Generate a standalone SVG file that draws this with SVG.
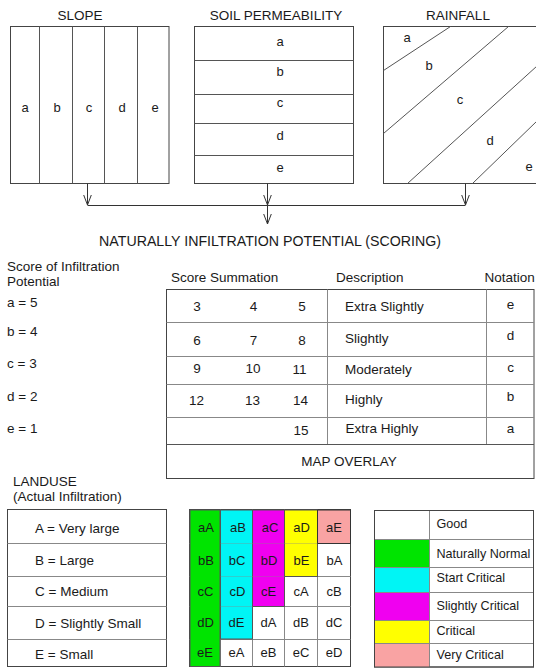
<svg xmlns="http://www.w3.org/2000/svg" width="536" height="668" viewBox="0 0 536 668">
<style>
text{font-family:"Liberation Sans",Arial,sans-serif;font-size:13.5px;fill:#1a1a1a;dominant-baseline:central}
.m{text-anchor:middle}
.t{font-size:13.5px}
.s13{font-size:13px}
.lg{font-size:12.6px}
.box{fill:#fff;stroke:#444;stroke-width:1}
.ln{stroke:#555;stroke-width:1;fill:none}
.lt{stroke:#888;stroke-width:1;fill:none}
.con{stroke:#333;stroke-width:1;fill:none}
.g{fill:#00e400}.c{fill:#00f5f5}.p{fill:#f000f0}.y{fill:#ffff00}.k{fill:#f9a3a3}
</style>
<defs>
<marker id="v" viewBox="-11 -5 12 10" refX="0" refY="0" markerWidth="12" markerHeight="10" markerUnits="userSpaceOnUse" orient="auto">
<path d="M-10,-3.8 L0,0 L-10,3.8" fill="none" stroke="#333" stroke-width="1"/>
</marker>
</defs>

<g id="slope">
<text class="m t" x="80" y="15">SLOPE</text>
<rect class="box" x="10.5" y="26.5" width="158.5" height="157"/>
<path class="ln" d="M39.5,26.5V183.5M72.5,26.5V183.5M104.5,26.5V183.5M137.5,26.5V183.5"/>
<text class="m s13" x="25" y="107">a</text>
<text class="m s13" x="57" y="107">b</text>
<text class="m s13" x="89" y="107">c</text>
<text class="m s13" x="122" y="107">d</text>
<text class="m s13" x="155" y="107">e</text>
</g>

<g id="soil">
<text class="m t" x="276" y="15">SOIL PERMEABILITY</text>
<rect class="box" x="194.5" y="26.5" width="159" height="157"/>
<path class="ln" d="M194.5,60.5H353.5M194.5,94.5H353.5M194.5,123.5H353.5M194.5,155.5H353.5"/>
<text class="m s13" x="280" y="41">a</text>
<text class="m s13" x="280" y="71">b</text>
<text class="m s13" x="280" y="102">c</text>
<text class="m s13" x="280" y="135">d</text>
<text class="m s13" x="280" y="167">e</text>
</g>

<g id="rainfall">
<text class="m t" x="458" y="15">RAINFALL</text>
<rect class="box" x="383.5" y="26.5" width="160" height="157"/>
<path class="ln" d="M383.5,70.5L450.5,26.5M383.5,133.5L508.5,26.5M407.5,183.5L537,66M472.5,183.5L537,121"/>
<text class="m s13" x="407" y="37">a</text>
<text class="m s13" x="429" y="65">b</text>
<text class="m s13" x="460" y="99">c</text>
<text class="m s13" x="490" y="140">d</text>
<text class="m s13" x="529" y="166">e</text>
</g>

<g id="connectors">
<path class="con" d="M87.5,183.5V205" marker-end="url(#v)"/>
<path class="con" d="M465.5,183.5V205" marker-end="url(#v)"/>
<path class="con" d="M87.5,205.5H465.5"/>
<path class="con" d="M267.5,183.5V205" marker-end="url(#v)"/>
<path class="con" d="M267.5,205V224" marker-end="url(#v)"/>
</g>

<g id="title">
<text class="m" style="font-size:14.2px" x="270" y="241">NATURALLY INFILTRATION POTENTIAL (SCORING)</text>
</g>

<g id="score-key">
<text x="7" y="266">Score of Infiltration</text>
<text x="7" y="281.5">Potential</text>
<text x="7" y="302">a = 5</text>
<text x="7" y="331.5">b = 4</text>
<text x="7" y="363">c = 3</text>
<text x="7" y="396.5">d = 2</text>
<text x="7" y="428">e = 1</text>
</g>

<g id="score-table">
<text x="171" y="277.5">Score Summation</text>
<text x="336" y="277.5">Description</text>
<text x="484.5" y="277.5">Notation</text>
<rect class="box" x="166.5" y="289.5" width="367.5" height="189"/>
<path class="lt" d="M166.5,322.5H534M166.5,356.5H534M166.5,384.5H534M166.5,417.5H534M327.5,289.5V444.5M486.5,289.5V444.5"/>
<path class="ln" d="M166.5,444.5H534"/>
<text class="m" x="197" y="306.5">3</text><text class="m" x="253.5" y="306.5">4</text><text class="m" x="302" y="306.5">5</text>
<text x="345" y="306">Extra Slightly</text><text class="m" x="510.5" y="304.5">e</text>
<text class="m" x="197" y="340.5">6</text><text class="m" x="253.5" y="340.5">7</text><text class="m" x="302" y="340.5">8</text>
<text x="345" y="338">Slightly</text><text class="m" x="510.5" y="335">d</text>
<text class="m" x="197" y="368.5">9</text><text class="m" x="253" y="368.5">10</text><text class="m" x="299.5" y="369">11</text>
<text x="345" y="369">Moderately</text><text class="m" x="510.5" y="367">c</text>
<text class="m" x="196.5" y="400">12</text><text class="m" x="252.5" y="400">13</text><text class="m" x="300.5" y="400">14</text>
<text x="345" y="399">Highly</text><text class="m" x="510.5" y="396.5">b</text>
<text class="m" x="301" y="430">15</text>
<text x="345.5" y="428.5">Extra Highly</text><text class="m" x="510.5" y="428">a</text>
<text class="m" x="349" y="461.5">MAP OVERLAY</text>
</g>

<g id="landuse">
<text x="13" y="481.5">LANDUSE</text>
<text x="13" y="496.5">(Actual Infiltration)</text>
<rect class="box" x="7.5" y="509.5" width="159" height="157"/>
<path class="lt" d="M7.5,543.5H166.5M7.5,576.5H166.5M7.5,606.5H166.5M7.5,639.5H166.5"/>
<text x="35" y="528">A = Very large</text>
<text x="35" y="560.5">B = Large</text>
<text x="35" y="591.5">C = Medium</text>
<text x="35" y="623">D = Slightly Small</text>
<text x="35" y="654">E = Small</text>
</g>

<g id="overlay-matrix">
<rect class="box" x="189.5" y="509.5" width="161" height="157"/>
<path class="lt" d="M189.5,543.5H350.5M189.5,576.5H350.5M189.5,606.5H350.5M189.5,639.5H350.5M220.5,509.5V666.5M252.5,509.5V666.5M284.5,509.5V666.5M317.5,509.5V666.5"/>
<rect class="g" x="190" y="510" width="30" height="156.5" stroke="#555" stroke-width="1"/>
<rect class="c" x="220.5" y="510" width="32" height="129" stroke="#555" stroke-width="1"/>
<rect class="p" x="252.5" y="510" width="32" height="96.5" stroke="#555" stroke-width="1"/>
<rect class="y" x="284.5" y="510" width="33" height="66.5" stroke="#555" stroke-width="1"/>
<rect class="k" x="317.5" y="510" width="33" height="33.5" stroke="#333" stroke-width="1"/>
<path class="lt" d="M220.5,543.5H252.5M220.5,576.5H252.5M220.5,606.5H252.5M252.5,543.5H284.5M252.5,576.5H284.5M284.5,543.5H317.5" stroke-opacity="0.35"/>
<text class="m s13" x="206" y="527">aA</text><text class="m s13" x="238" y="527">aB</text><text class="m s13" x="270" y="527">aC</text><text class="m s13" x="301.5" y="527">aD</text><text class="m s13" x="334" y="527">aE</text>
<text class="m s13" x="206" y="560">bB</text><text class="m s13" x="237" y="560">bC</text><text class="m s13" x="269" y="560">bD</text><text class="m s13" x="301.5" y="560">bE</text><text class="m s13" x="334.5" y="560">bA</text>
<text class="m s13" x="205.5" y="591">cC</text><text class="m s13" x="237.5" y="591">cD</text><text class="m s13" x="268.5" y="591">cE</text><text class="m s13" x="301" y="591">cA</text><text class="m s13" x="334" y="591">cB</text>
<text class="m s13" x="205.5" y="622">dD</text><text class="m s13" x="236.5" y="622">dE</text><text class="m s13" x="268.5" y="622">dA</text><text class="m s13" x="301" y="622">dB</text><text class="m s13" x="334" y="622">dC</text>
<text class="m s13" x="205" y="652.5">eE</text><text class="m s13" x="236.5" y="652.5">eA</text><text class="m s13" x="268.5" y="652.5">eB</text><text class="m s13" x="301" y="652.5">eC</text><text class="m s13" x="334" y="652.5">eD</text>
</g>

<g id="legend">
<rect class="box" x="374.5" y="510.5" width="159" height="156.5"/>
<rect class="g" x="374.5" y="539.5" width="55" height="28"/>
<rect class="c" x="374.5" y="567.5" width="55" height="25"/>
<rect class="p" x="374.5" y="592.5" width="55" height="28"/>
<rect class="y" x="374.5" y="620.5" width="55" height="23"/>
<rect class="k" x="374.5" y="643.5" width="55" height="23.5"/>
<path class="lt" d="M374.5,539.5H533.5M374.5,567.5H533.5M374.5,592.5H533.5M374.5,620.5H533.5M374.5,643.5H533.5M429.5,510.5V667"/>
<rect x="374.5" y="510.5" width="159" height="156.5" fill="none" stroke="#444"/>
<text class="lg" x="436.5" y="524">Good</text>
<text class="lg" x="436.5" y="554">Naturally Normal</text>
<text class="lg" x="436.5" y="578">Start Critical</text>
<text class="lg" x="436.5" y="606">Slightly Critical</text>
<text class="lg" x="436.5" y="631">Critical</text>
<text class="lg" x="436.5" y="654.5">Very Critical</text>
</g>
</svg>
